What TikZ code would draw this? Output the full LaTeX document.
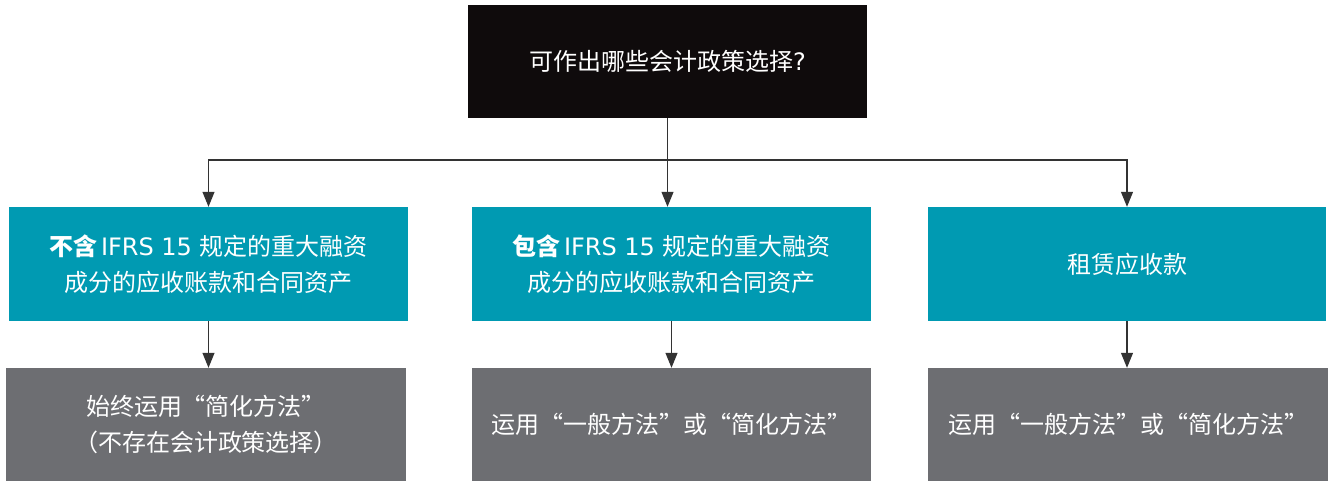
\documentclass[tikz,border=0pt]{standalone}
\usepackage{fontspec}
\setmainfont{Noto Sans CJK SC}
\newfontfamily\lat{DejaVu Sans}
\usetikzlibrary{arrows.meta,positioning}
\definecolor{teal1}{HTML}{009AB2}
\definecolor{gray1}{HTML}{6D6E72}
\definecolor{black1}{HTML}{0F0B0C}
\definecolor{line1}{HTML}{333333}
\begin{document}
\begin{tikzpicture}[x=1pt,y=-1pt,
  box/.style={draw=none,inner sep=0pt,minimum width=399pt,minimum height=114pt,text=white,align=center,font=\fontsize{24}{36}\selectfont},
  topbox/.style={box,fill=black1},
  tealbox/.style={box,fill=teal1},
  graybox/.style={box,fill=gray1},
  conn/.style={draw=line1,line width=1.1pt},
  arr/.style={conn,-{Triangle[length=15pt,width=12pt]}}]
\useasboundingbox (0,0) rectangle (1328,481);
\node[topbox,minimum height=113pt] (top) at (667.5,61.5) {可作出哪些会计政策选择{\lat ?}};
\node[tealbox] (L1) at (208.5,264) {\textbf{不含}\,{\lat IFRS 15}\,\,规定的重大融资\\成分的应收账款和合同资产};
\node[tealbox] (M1) at (671.5,264) {\textbf{包含}\,{\lat IFRS 15}\,\,规定的重大融资\\成分的应收账款和合同资产};
\node[tealbox,minimum width=398pt] (R1) at (1127,264) {租赁应收款};
\node[graybox,minimum height=113pt,minimum width=400pt] (L2) at (206,424.5) {始终运用“简化方法”\\（不存在会计政策选择）};
\node[graybox,minimum height=113pt] (M2) at (671.5,424.5) {运用“一般方法”或“简化方法”};
\node[graybox,minimum height=113pt,minimum width=400pt] (R2) at (1128,424.5) {运用“一般方法”或“简化方法”};
\coordinate (bus) at (667.5,160);
\draw[arr] (top.south) -- (top.south |- M1.north);
\draw[arr] (bus) -| (L1.north);
\draw[arr] (bus) -| (R1.north);
\draw[arr] (L1.south) -- (L2.north -| L1.south);
\draw[arr] (M1.south) -- (M2.north);
\draw[arr] (R1.south) -- (R2.north -| R1.south);
\end{tikzpicture}
\end{document}
